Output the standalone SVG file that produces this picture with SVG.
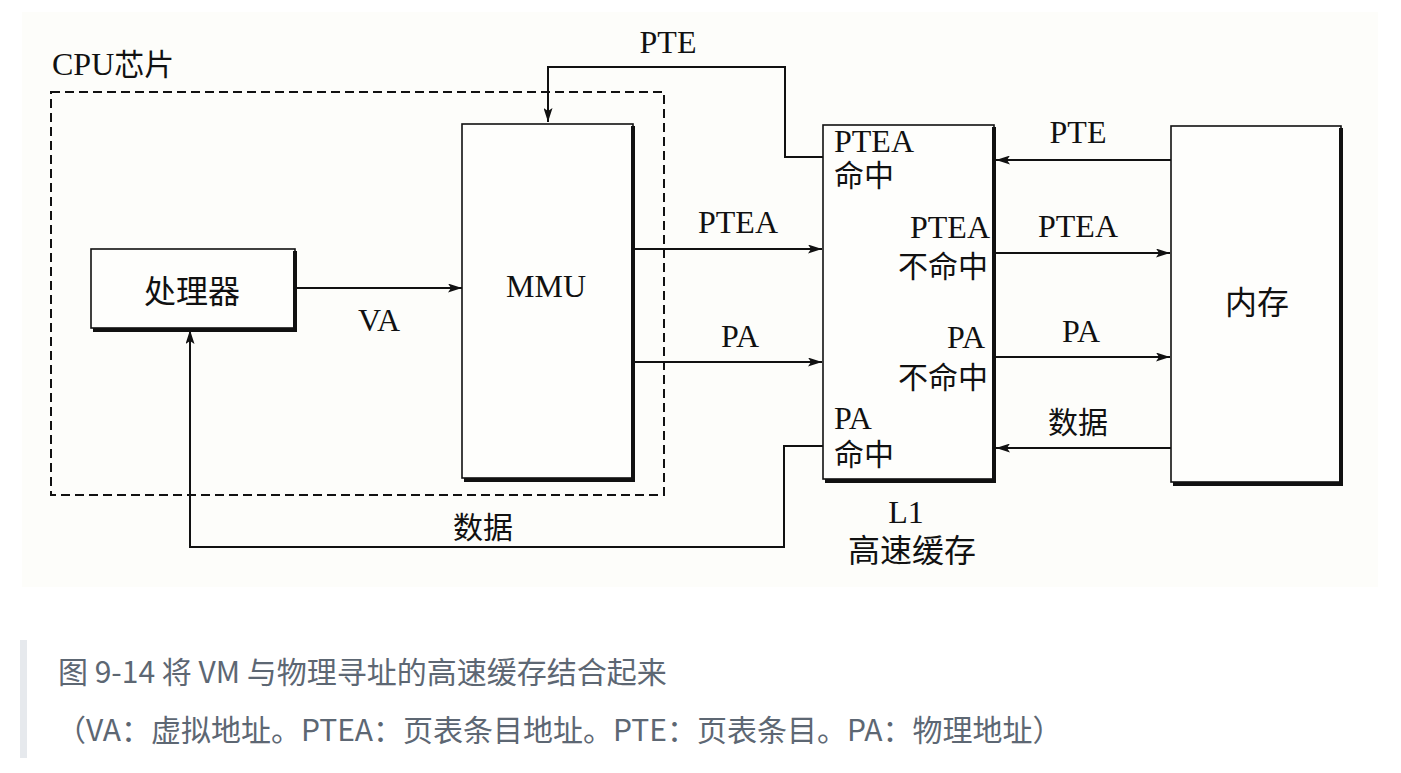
<svg xmlns="http://www.w3.org/2000/svg" width="1401" height="773" viewBox="0 0 1401 773">
<style>
.lat{font-family:"Liberation Serif","Noto Sans CJK SC",serif;font-size:32px;fill:#111}
.cjk{font-family:"Liberation Serif","Noto Sans CJK SC",serif;font-size:30px;fill:#111}
.box{fill:#fefefc;stroke:#111;stroke-width:1.6}
.sh{stroke:#111;stroke-width:4;fill:none}
.ln{stroke:#111;stroke-width:2;fill:none}
.cap{font-family:"Noto Sans CJK SC","Noto Sans",sans-serif;font-size:30px;fill:#5d6773}
</style>
<defs>
<marker id="ah" viewBox="0 0 14 9" refX="14" refY="4.5" markerWidth="14" markerHeight="9" markerUnits="userSpaceOnUse" orient="auto">
<path d="M0,0 L14,4.5 L0,9 L3,4.5 Z" fill="#111"/>
</marker>
</defs>
<rect x="0" y="0" width="1401" height="773" fill="#ffffff"/>
<rect x="22" y="12" width="1356" height="575" fill="#fdfdfa"/>

<g id="cpu-chip">
<rect x="51" y="92" width="613" height="403" fill="none" stroke="#111" stroke-width="2" stroke-dasharray="9,5"/>
<text class="cjk" x="52" y="75"><tspan class="lat" style="font-size:32px">CPU</tspan>芯片</text>
</g>

<g id="processor">
<rect class="box" x="91" y="249" width="204" height="79"/>
<path class="sh" d="M295,251 V330 H93"/>
<text class="cjk" x="192" y="303" text-anchor="middle" style="font-size:32px">处理器</text>
</g>

<g id="mmu">
<rect class="box" x="462" y="124" width="171" height="354"/>
<path class="sh" d="M633,126 V480 H464"/>
<text class="lat" x="546" y="297" text-anchor="middle">MMU</text>
</g>

<g id="l1-cache">
<rect class="box" x="823" y="125" width="171" height="354"/>
<path class="sh" d="M994,127 V481 H825"/>
<text class="lat" x="834" y="152">PTEA</text>
<text class="cjk" x="834" y="186">命中</text>
<text class="lat" x="990" y="238" text-anchor="end">PTEA</text>
<text class="cjk" x="988" y="277" text-anchor="end">不命中</text>
<text class="lat" x="985" y="348" text-anchor="end">PA</text>
<text class="cjk" x="988" y="388" text-anchor="end">不命中</text>
<text class="lat" x="834" y="429">PA</text>
<text class="cjk" x="834" y="465">命中</text>
<text class="lat" x="906" y="523" text-anchor="middle">L1</text>
<text class="cjk" x="912" y="562" text-anchor="middle" style="font-size:32px">高速缓存</text>
</g>

<g id="memory">
<rect class="box" x="1171" y="126" width="170" height="356"/>
<path class="sh" d="M1341,128 V484 H1173"/>
<text class="cjk" x="1257" y="314" text-anchor="middle" style="font-size:32px">内存</text>
</g>

<g id="connectors">
<line class="ln" x1="295" y1="288" x2="462" y2="288" marker-end="url(#ah)"/>
<path class="ln" d="M823,157 H785 V67 H548 V122" marker-end="url(#ah)"/>
<line class="ln" x1="633" y1="249" x2="822" y2="249" marker-end="url(#ah)"/>
<line class="ln" x1="633" y1="362" x2="822" y2="362" marker-end="url(#ah)"/>
<path class="ln" d="M823,446 H784 V547 H190 V330" marker-end="url(#ah)"/>
<line class="ln" x1="1171" y1="160" x2="996" y2="160" marker-end="url(#ah)"/>
<line class="ln" x1="996" y1="253" x2="1170" y2="253" marker-end="url(#ah)"/>
<line class="ln" x1="996" y1="357" x2="1170" y2="357" marker-end="url(#ah)"/>
<line class="ln" x1="1171" y1="448" x2="996" y2="448" marker-end="url(#ah)"/>
<text class="lat" x="668" y="53" text-anchor="middle">PTE</text>
<text class="lat" x="379" y="331" text-anchor="middle">VA</text>
<text class="lat" x="738" y="233" text-anchor="middle">PTEA</text>
<text class="lat" x="740" y="347" text-anchor="middle">PA</text>
<text class="cjk" x="483" y="538" text-anchor="middle">数据</text>
<text class="lat" x="1078" y="143" text-anchor="middle">PTE</text>
<text class="lat" x="1078" y="237" text-anchor="middle">PTEA</text>
<text class="lat" x="1081" y="342" text-anchor="middle">PA</text>
<text class="cjk" x="1078" y="433" text-anchor="middle">数据</text>
</g>

<g id="caption">
<rect x="20" y="640" width="7" height="118" fill="#e6e9ed"/>
<text class="cap" x="58" y="683">图 9-14 将 VM 与物理寻址的高速缓存结合起来</text>
<text class="cap" x="56" y="741">（VA：虚拟地址。PTEA：页表条目地址。PTE：页表条目。PA：物理地址）</text>
</g>
</svg>
